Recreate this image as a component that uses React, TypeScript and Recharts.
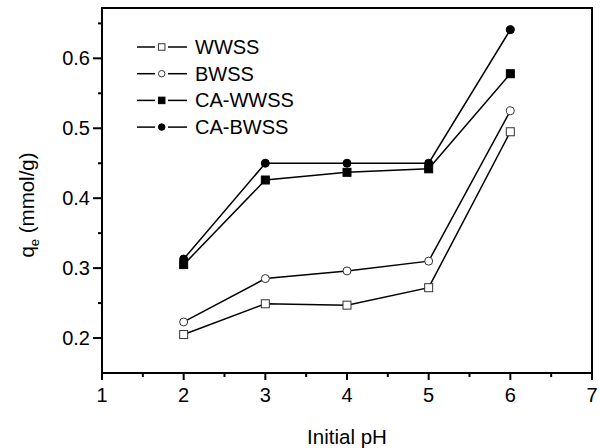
import React from 'react';
import { LineChart, Line, XAxis, YAxis, ReferenceArea } from 'recharts';

const phValues = [2, 3, 4, 5, 6];
const wwss = [0.205, 0.249, 0.247, 0.272, 0.495];
const bwss = [0.223, 0.285, 0.296, 0.31, 0.525];
const caWwss = [0.305, 0.426, 0.437, 0.442, 0.578];
const caBwss = [0.313, 0.45, 0.45, 0.45, 0.641];

const xTicks = [1, 1.5, 2, 2.5, 3, 3.5, 4, 4.5, 5, 5.5, 6, 6.5, 7];
const yTicks = [0.2, 0.25, 0.3, 0.35, 0.4, 0.45, 0.5, 0.55, 0.6, 0.65];

const data = phValues.map((ph, i) => ({
  ph,
  wwss: wwss[i],
  bwss: bwss[i],
  caWwss: caWwss[i],
  caBwss: caBwss[i],
}));

type Shape = 'square' | 'circle';

const series: { key: string; name: string; shape: Shape; filled: boolean }[] = [
  { key: 'wwss', name: 'WWSS', shape: 'square', filled: false },
  { key: 'bwss', name: 'BWSS', shape: 'circle', filled: false },
  { key: 'caWwss', name: 'CA-WWSS', shape: 'square', filled: true },
  { key: 'caBwss', name: 'CA-BWSS', shape: 'circle', filled: true },
];

const FONT = 'Arial, "Liberation Sans", sans-serif';

function marker(shape: Shape, filled: boolean, cx: number, cy: number, size: number, key?: string) {
  const fill = filled ? '#000' : '#fff';
  const stroke = filled ? '#000' : '#333';
  if (shape === 'square') {
    return (
      <rect key={key} x={cx - size / 2} y={cy - size / 2} width={size} height={size} fill={fill} stroke={stroke} strokeWidth={1} />
    );
  }
  return <circle key={key} cx={cx} cy={cy} r={size / 2} fill={fill} stroke={stroke} strokeWidth={1} />;
}

const makeDot = (shape: Shape, filled: boolean) => (props: any) => {
  const { cx, cy } = props;
  if (cx == null || cy == null) return <g key={`e-${props.index}`} />;
  return marker(shape, filled, cx, cy, 8, `${shape}-${cx}-${cy}`);
};

const XTick = (props: any) => {
  const { x, y, payload } = props;
  const major = Number.isInteger(payload.value);
  return (
    <g>
      <line x1={x} x2={x} y1={y} y2={y + (major ? 7 : 4)} stroke="#000" strokeWidth={2} />
      {major && (
        <text x={x} y={y + 29} textAnchor="middle" fontSize={20} fontFamily={FONT} fill="#000">
          {payload.value}
        </text>
      )}
    </g>
  );
};

const YTick = (props: any) => {
  const { x, y, payload } = props;
  const major = Math.round(payload.value * 100) % 10 === 0;
  return (
    <g>
      <line x1={x - (major ? 9 : 4)} x2={x} y1={y} y2={y} stroke="#000" strokeWidth={2} />
      {major && (
        <text x={x - 12} y={y + 7} textAnchor="end" fontSize={20} fontFamily={FONT} fill="#000">
          {payload.value.toFixed(1)}
        </text>
      )}
    </g>
  );
};

export default function App() {
  return (
    <div style={{ position: 'absolute', left: 0, top: 0, width: 600, height: 448, background: '#fff' }}>
      <LineChart width={600} height={448} data={data} margin={{ top: 8, right: 8, left: 0, bottom: 0 }}>
        <XAxis
          dataKey="ph"
          type="number"
          domain={[1, 7]}
          ticks={xTicks}
          interval={0}
          height={75}
          tickSize={0}
          tickMargin={0}
          tick={XTick}
          axisLine={{ stroke: '#000', strokeWidth: 2 }}
          allowDataOverflow
        />
        <YAxis
          type="number"
          domain={[0.15, 0.672]}
          ticks={yTicks}
          interval={0}
          width={102}
          tickSize={0}
          tickMargin={0}
          tick={YTick}
          axisLine={{ stroke: '#000', strokeWidth: 2 }}
          allowDataOverflow
        />
        <ReferenceArea x1={1} x2={7} y1={0.15} y2={0.672} fill="none" stroke="#000" strokeWidth={2} />
        {series.map((s) => (
          <Line
            key={s.key}
            dataKey={s.key}
            type="linear"
            stroke="#000"
            strokeWidth={1.5}
            dot={makeDot(s.shape, s.filled)}
            activeDot={false}
            isAnimationActive={false}
          />
        ))}
      </LineChart>
      <svg
        width={600}
        height={448}
        style={{ position: 'absolute', left: 0, top: 0, pointerEvents: 'none' }}
      >
        {series.map((s, i) => {
          const y = 47 + i * 26.7;
          return (
            <g key={s.key}>
              <line x1={137} x2={155} y1={y} y2={y} stroke="#000" strokeWidth={1.5} />
              <line x1={168} x2={187} y1={y} y2={y} stroke="#000" strokeWidth={1.5} />
              {marker(s.shape, s.filled, 161.7, y, 6.5)}
              <text x={195} y={y + 7} fontSize={20} fontFamily={FONT} fill="#000">
                {s.name}
              </text>
            </g>
          );
        })}
        <text x={347} y={444} textAnchor="middle" fontSize={20.5} fontFamily={FONT} fill="#000">
          Initial pH
        </text>
        <text
          transform="translate(34, 205) rotate(-90)"
          textAnchor="middle"
          fontSize={20.5}
          fontFamily={FONT}
          fill="#000"
        >
          q<tspan fontSize={13} dy={5}>e</tspan>
          <tspan dy={-5}> (mmol/g)</tspan>
        </text>
      </svg>
    </div>
  );
}
